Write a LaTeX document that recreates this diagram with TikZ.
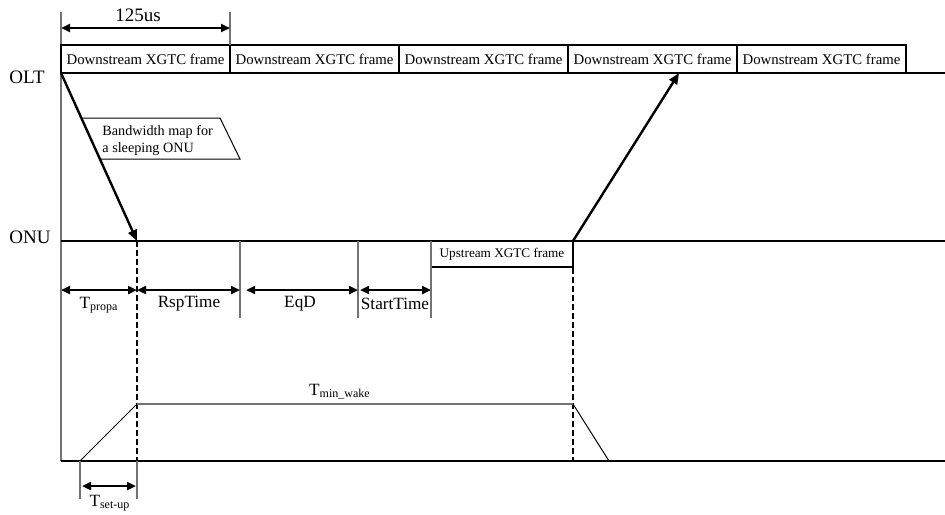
\documentclass[tikz,border=0pt]{standalone}
\usepackage{fontspec}
\setmainfont{Liberation Serif}
\usetikzlibrary{arrows.meta, positioning}
\tikzset{
  timeline/.style={line width=1.1pt},
  tickline/.style={draw=black!55, line width=0.6pt},
  thinline/.style={line width=0.5pt},
  wakeline/.style={line width=0.9pt, dash pattern=on 3pt off 1.5pt},
  frame/.style={rectangle, draw, line width=0.6pt, minimum width=84.5pt, minimum height=14pt, inner sep=0pt, outer sep=0pt, font=\fontsize{7.4}{9}\selectfont},
  upframe/.style={rectangle, draw, line width=0.6pt, minimum width=71pt, minimum height=13pt, inner sep=0pt, outer sep=0pt, font=\fontsize{6.6}{8}\selectfont},
  maptext/.style={inner sep=0pt, align=left, font=\fontsize{7.1}{8.5}\selectfont},
  axisname/.style={inner sep=0pt, font=\fontsize{9.5}{11}\selectfont},
  spanlabel/.style={inner sep=0pt, font=\fontsize{8.6}{10}\selectfont},
  msg/.style={-{Triangle[length=5.5pt, width=4.5pt]}, line width=1.2pt},
  span/.style={{Triangle[length=4.5pt, width=4pt]}-{Triangle[length=4.5pt, width=4pt]}, line width=1.2pt},
}
\begin{document}
\begin{tikzpicture}[x=0.5pt, y=-0.5pt]
  \useasboundingbox (0,0) rectangle (945,514);
  % time axes
  \coordinate (top) at (61,12);
  \coordinate (oltL) at (61,73);
  \coordinate (oltR) at (945,73);
  \coordinate (onuL) at (61,241);
  \coordinate (onuR) at (945,241);
  \coordinate (botL) at (61,461);
  \coordinate (botR) at (945,461);
  \coordinate (rx) at (137,241);
  \coordinate (tx) at (573,241);
  \coordinate (ack) at (679,73);
  \draw[tickline] (top) -- (botL);
  \draw[timeline] (oltL) -- (oltR);
  \draw[timeline] (onuL) -- (onuR);
  \draw[timeline] (botL) -- (botR);
  \node[axisname] (olt) at (27,77) {OLT};
  \node[axisname] (onu) at (30,237) {ONU};
  % downstream frames
  \node[frame] (f1) at (145.5,59) {Downstream XGTC frame};
  \node[frame, right=0pt of f1] (f2) {Downstream XGTC frame};
  \node[frame, right=0pt of f2] (f3) {Downstream XGTC frame};
  \node[frame, right=0pt of f3] (f4) {Downstream XGTC frame};
  \node[frame, right=0pt of f4] (f5) {Downstream XGTC frame};
  % frame period
  \coordinate (p125) at (230,12);
  \coordinate (s0) at (61,28);
  \coordinate (s1) at (230,28);
  \draw[tickline] (p125) -- (f1.north east);
  \draw[span] (s0) -- (s1);
  \node[axisname] (period) at (138,15) {125us};
  % messages
  \draw[msg] (oltL) -- (rx);
  \draw[msg] (tx) -- (ack);
  \node[maptext, anchor=west] (bwmap) at (102,140.5) {Bandwidth map for\\a sleeping ONU};
  \draw[thinline] (82,118) -- (220,118) -- (240,159) -- (100,159);
  % ONU side
  \node[upframe] (up) at (502,254) {Upstream XGTC frame};
  \foreach \x in {240,358,431}
    \draw[tickline] (\x,241) -- (\x,318);
  \coordinate (d0) at (61,290);
  \coordinate (d1) at (137,290);
  \coordinate (d2) at (240,290);
  \coordinate (d3) at (358,290);
  \coordinate (d4) at (431,290);
  \draw[span] (d0) -- (d1);
  \draw[span] (d1) -- (d2);
  \draw[span, shorten <=3pt] (d2) -- (d3);
  \draw[span, shorten <=1pt] (d3) -- (d4);
  \node[spanlabel] (tprop) at (99,305) {T\textsubscript{propa}};
  \node[spanlabel] (rsp) at (189,304) {RspTime};
  \node[spanlabel] (eqd) at (300,304) {EqD};
  \node[spanlabel] (start) at (395,304) {StartTime};
  % wake window
  \draw[wakeline] (rx) -- (rx |- botL);
  \draw[wakeline] (tx) -- (tx |- botL);
  \coordinate (w0) at (80,461);
  \coordinate (w1) at (137,404);
  \coordinate (w2) at (573,404);
  \coordinate (w3) at (609,461);
  \draw[thinline] (w0) -- (w1);
  \draw[tickline] (w1) -- (w2);
  \draw[thinline] (w2) -- (w3);
  \node[spanlabel] (tmin) at (340,392) {T\textsubscript{min\_wake}};
  % set-up time
  \coordinate (u0) at (80,499);
  \coordinate (u1) at (137,499);
  \draw[tickline] (w0) -- (u0);
  \draw[tickline] (rx |- botL) -- (u1);
  \draw[span] (82,486) -- (136,486);
  \node[spanlabel] (tset) at (110,503) {T\textsubscript{set-up}};
\end{tikzpicture}
\end{document}
